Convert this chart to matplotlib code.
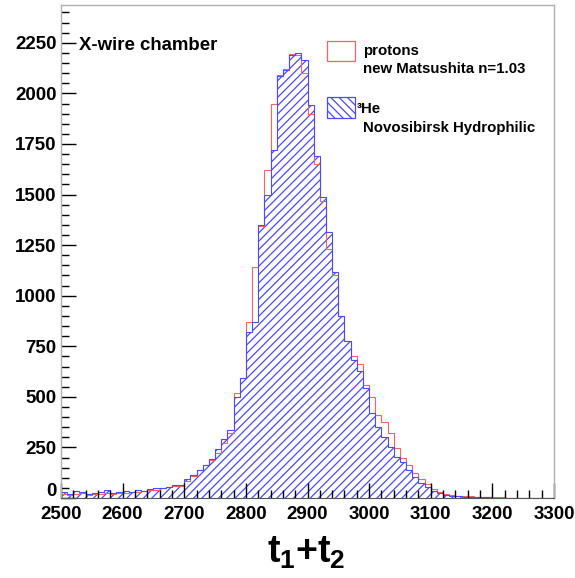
import numpy as np
import matplotlib
matplotlib.use("Agg")
import matplotlib.pyplot as plt
from matplotlib.patches import Rectangle
from matplotlib.ticker import MultipleLocator, FuncFormatter

plt.rcParams['font.family'] = ['Liberation Sans', 'DejaVu Sans']
plt.rcParams['font.weight'] = 'bold'
plt.rcParams['mathtext.fontset'] = 'custom'
plt.rcParams['mathtext.rm'] = 'Liberation Sans:bold'
plt.rcParams['mathtext.it'] = 'Liberation Sans:bold'
plt.rcParams['mathtext.bf'] = 'Liberation Sans:bold'
plt.rcParams['hatch.linewidth'] = 0.9

# binning: 80 bins of width 10 between 2500 and 3300
edges = np.arange(2500, 3301, 10)

# 3He, Novosibirsk hydrophilic (hatched blue)
he3 = [30, 22, 35, 28, 22, 26, 32, 38, 27, 30,
       36, 30, 40, 36, 45, 50, 48, 55, 62, 64,
       94, 114, 138, 163, 192, 242, 292, 336, 501, 592,
       820, 870, 1350, 1500, 1720, 2085, 2115, 2190, 2198, 2165,
       1943, 1690, 1490, 1317, 1119, 900, 775, 680, 630, 545,
       420, 353, 300, 250, 204, 180, 138, 105, 75, 55,
       35, 25, 15, 12, 8, 6, 5, 4, 3, 3,
       2, 2, 2, 1, 1, 1, 1, 1, 1, 1]

# protons, new Matsushita n=1.03 (red outline)
protons = [18, 14, 20, 25, 16, 20, 20, 24, 20, 26,
           26, 30, 30, 34, 38, 40, 50, 55, 60, 60,
           85, 110, 140, 165, 190, 221, 270, 320, 520, 595,
           870, 1140, 1345, 1620, 1950, 2090, 2120, 2195, 2190, 2100,
           1900, 1650, 1470, 1230, 1100, 900, 775, 700, 660, 560,
           500, 410, 377, 321, 247, 198, 163, 124, 95, 70,
           45, 30, 20, 15, 12, 10, 8, 6, 5, 4,
           3, 3, 2, 2, 2, 1, 1, 1, 1, 1]

blue = '#4a4aff'
red = '#ff6060'

fig = plt.figure(figsize=(5.75, 5.78), dpi=100)
ax = fig.add_axes([61/575, 80/578, 493/575, 493/578])

ax.stairs(he3, edges, fill=True, hatch='////', facecolor='none',
          edgecolor=blue, linewidth=0)
ax.stairs(protons, edges, color=red, linewidth=0.8)
ax.stairs(he3, edges, color=blue, linewidth=0.8)

ax.set_xlim(2500, 3300)
ax.set_ylim(0, 2437)

ax.xaxis.set_major_locator(MultipleLocator(100))
ax.xaxis.set_minor_locator(MultipleLocator(20))
ax.yaxis.set_major_locator(MultipleLocator(250))
ax.yaxis.set_minor_locator(MultipleLocator(50))
# the "0" label is placed by hand below, slightly lifted like in ROOT
ax.yaxis.set_major_formatter(FuncFormatter(lambda v, p: '' if v == 0 else f'{v:.0f}'))
ax.tick_params(which='both', direction='in', top=False, right=False,
               width=1, color='black', labelsize=13.5)
ax.tick_params(which='major', length=11)
ax.tick_params(which='minor', length=5.5)
ax.tick_params(axis='x', pad=6)
ax.tick_params(axis='y', pad=3)
for lab in ax.get_xticklabels() + ax.get_yticklabels():
    lab.set_fontweight('bold')

for side in ['top', 'right', 'left']:
    ax.spines[side].set_color('#b0b0b0')
    ax.spines[side].set_linewidth(1)
ax.spines['bottom'].set_color('#555555')

fig.text(57/575, 1 - 492/578, '0', ha='right', va='center', fontsize=13.5,
         fontweight='bold')

# x axis title
fig.text(306/575, 1 - 563/578, r'$t_1$+$t_2$', ha='center', va='baseline',
         fontsize=27)

# chamber label
fig.text(79/575, 1 - 50/578, 'X-wire chamber', ha='left', va='baseline',
         fontsize=13.4, fontweight='bold')

# legend
def fx(x):
    return x / 575

def fy(y):
    return 1 - y / 578

fig.patches.append(Rectangle((fx(327), fy(61)), fx(355) - fx(327), fy(41) - fy(61),
                             transform=fig.transFigure, facecolor='none',
                             edgecolor=red, linewidth=0.9))
fig.patches.append(Rectangle((fx(327), fy(118)), fx(355) - fx(327), fy(97) - fy(118),
                             transform=fig.transFigure, facecolor='none',
                             edgecolor=blue, linewidth=0.9, hatch='\\\\\\\\'))
fig.text(fx(363), fy(55), 'protons', fontsize=10.8, fontweight='bold', va='baseline')
fig.text(fx(363), fy(73), 'new Matsushita n=1.03', fontsize=10.8, fontweight='bold',
         va='baseline')
fig.text(fx(357), fy(113), '³He', fontsize=10.8, fontweight='bold', va='baseline')
fig.text(fx(363), fy(132), 'Novosibirsk Hydrophilic', fontsize=10.8, fontweight='bold',
         va='baseline')

fig.savefig('out.png', dpi=100, facecolor='white')
